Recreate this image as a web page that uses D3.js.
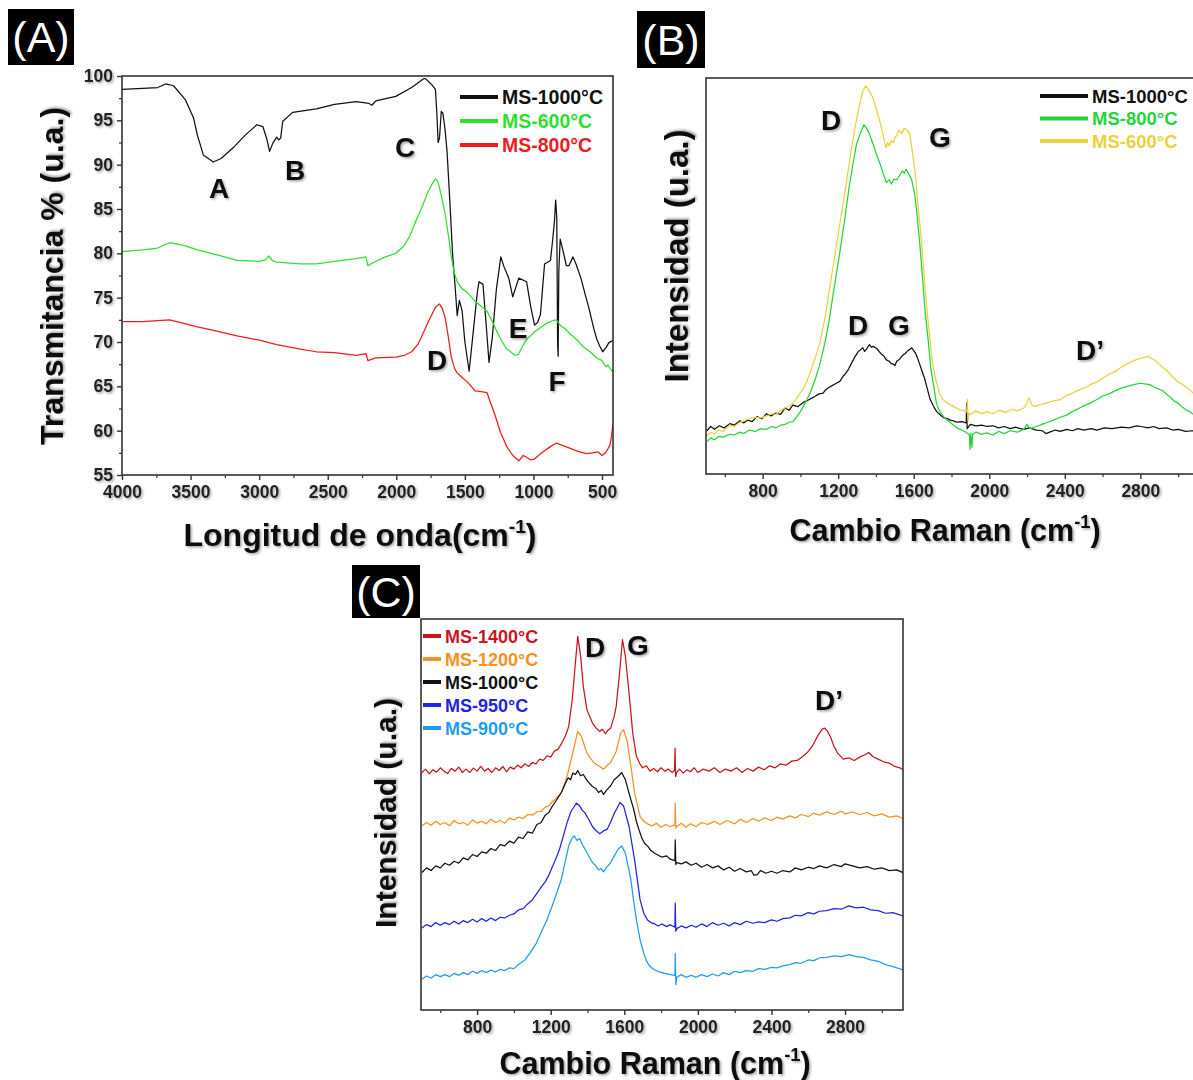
<!DOCTYPE html>
<html><head><meta charset="utf-8">
<script src="https://cdn.jsdelivr.net/npm/d3@7"></script>
<style>
body{margin:0;background:#fff}
text{font-family:"Liberation Sans",Arial,Helvetica,sans-serif}
</style>
</head><body>
<svg id="chart" width="1193" height="1080"></svg>
<script>
// ---------------- DATA ----------------
// Panel A: FTIR (x: cm-1, y: transmittance %)
const ftirXTicks = [4000,3500,3000,2500,2000,1500,1000,500];
const ftirYTicks = [55,60,65,70,75,80,85,90,95,100];
const ftirLegend = ["MS-1000°C","MS-600°C","MS-800°C"];
const ftir1000 = [[4000,98.5],[3850,98.6],[3740,98.7],[3682,99.1],[3624,98.9],[3537,97.3],[3479,95.3],[3450,93.3],[3407,91.1],[3335,90.3],[3277,90.7],[3190,91.9],[3103,93.3],[3017,94.5],[2973,94.3],[2944,92.9],[2924,91.5],[2901,92.4],[2872,93.1],[2857,92.8],[2843,93.0],[2828,94.9],[2756,95.9],[2583,96.3],[2450,96.8],[2293,97.1],[2200,96.9],[2178,96.7],[2149,97.2],[2004,97.7],[1888,98.7],[1801,99.7],[1787,99.7],[1760,99.3],[1740,99.0],[1715,98.5],[1705,96.0],[1695,92.5],[1685,93.0],[1672,96.0],[1660,95.8],[1645,94.0],[1630,91.5],[1610,86.0],[1590,80.0],[1570,76.0],[1556,73.0],[1540,74.7],[1520,73.5],[1500,70.0],[1469,66.7],[1440,71.0],[1410,75.5],[1397,76.8],[1368,76.5],[1345,72.0],[1324,67.7],[1300,70.5],[1270,76.0],[1238,79.6],[1215,78.5],[1180,77.2],[1151,75.1],[1107,77.2],[1050,76.8],[1020,74.0],[992,71.9],[970,72.2],[949,73.1],[919,78.8],[876,79.2],[860,81.5],[847,83.6],[838,86.0],[830,84.0],[824,70.0],[820,68.4],[815,78.0],[805,81.6],[786,80.4],[760,78.6],[741,78.6],[712,79.6],[690,78.8],[654,77.2],[620,75.2],[597,73.9],[560,71.5],[538,70.3],[515,69.5],[495,68.9],[470,69.4],[451,69.9],[420,70.2]];
const ftir600 = [[4000,80.2],[3850,80.4],[3740,80.6],[3653,81.2],[3550,80.9],[3450,80.4],[3300,79.8],[3161,79.2],[3000,79.1],[2950,79.3],[2930,79.7],[2905,79.2],[2872,79.0],[2700,78.8],[2583,78.8],[2450,79.1],[2293,79.4],[2221,79.6],[2207,78.6],[2163,79.0],[2080,79.6],[2004,80.0],[1946,80.8],[1900,82.0],[1859,83.6],[1810,85.3],[1773,86.8],[1740,87.8],[1715,88.4],[1700,88.2],[1686,87.5],[1665,86.0],[1643,84.4],[1620,82.0],[1599,79.6],[1580,78.0],[1556,76.8],[1520,76.0],[1483,75.6],[1420,74.5],[1339,73.5],[1300,72.3],[1252,70.7],[1200,69.3],[1136,68.5],[1110,68.6],[1080,69.5],[1050,70.3],[980,71.3],[905,72.1],[860,72.4],[832,72.5],[800,71.8],[770,71.5],[731,70.9],[680,70.2],[640,69.5],[587,68.9],[540,68.2],[500,67.9],[470,67.2],[457,67.4],[440,67.0],[420,66.6]];
const ftir800 = [[4000,72.3],[3850,72.3],[3740,72.4],[3653,72.5],[3550,72.1],[3450,71.7],[3300,71.2],[3161,70.7],[3000,70.2],[2872,69.7],[2700,69.2],[2583,68.9],[2450,68.8],[2293,68.5],[2221,68.7],[2207,67.9],[2150,68.2],[2004,68.3],[1940,68.5],[1888,68.9],[1840,69.8],[1801,71.1],[1760,72.5],[1715,73.9],[1686,74.3],[1665,73.8],[1643,72.7],[1620,70.5],[1599,68.3],[1575,67.0],[1556,66.5],[1520,66.0],[1483,65.5],[1425,64.5],[1380,64.4],[1339,64.3],[1310,63.0],[1281,61.8],[1240,59.8],[1194,58.2],[1150,57.2],[1107,56.6],[1075,57.2],[1050,57.0],[1020,56.7],[992,56.8],[940,57.5],[876,58.2],[832,58.6],[800,58.4],[731,58.0],[680,57.7],[616,57.4],[570,57.5],[529,57.6],[500,57.2],[470,57.6],[442,58.4],[430,59.5],[420,60.8]];

// Panel B: Raman (x: cm-1, y: intensity a.u.)
const ramanXTicks = [800,1200,1600,2000,2400,2800];
const ramanBLegend = ["MS-1000°C","MS-800°C","MS-600°C"];
const ramanB1000 = [[505,122],[525,134],[545,126],[570,136],[595,130],[626,142],[650,138],[680,150],[700,144],[720,152],[745,148],[770,162],[795,156],[821,170],[845,164],[870,172],[895,168],[918,186],[940,180],[960,194],[985,190],[1015,202],[1040,208],[1060,214],[1080,220],[1100,226],[1120,228],[1131,236],[1150,244],[1170,250],[1190,256],[1210,262],[1225,275],[1240,284],[1255,296],[1268,310],[1280,322],[1290,332],[1307,346],[1318,350],[1330,356],[1340,346],[1350,352],[1365,365],[1375,358],[1385,360],[1404,354],[1425,340],[1443,332],[1455,322],[1470,318],[1480,312],[1491,310],[1500,306],[1510,318],[1525,324],[1540,334],[1555,340],[1565,346],[1580,352],[1589,356],[1600,348],[1610,340],[1618,330],[1630,312],[1640,296],[1657,270],[1672,240],[1686,212],[1700,196],[1710,186],[1722,176],[1734,170],[1750,162],[1760,158],[1780,156],[1793,152],[1810,150],[1830,146],[1855,148],[1878,144],[1880,200],[1883,128],[1900,140],[1930,136],[1960,138],[1987,134],[2020,136],[2050,130],[2080,134],[2110,128],[2140,132],[2182,126],[2210,130],[2250,124],[2280,122],[2300,114],[2320,118],[2350,124],[2376,120],[2410,126],[2440,122],[2470,128],[2500,124],[2540,128],[2570,124],[2610,130],[2650,128],[2700,132],[2740,130],[2780,136],[2804,134],[2840,130],[2870,134],[2900,128],[2940,130],[2970,124],[3000,126],[3040,120],[3076,122],[3100,118]];
const ramanB800 = [[505,92],[525,102],[545,96],[565,106],[590,104],[626,112],[650,110],[680,118],[700,114],[730,124],[760,120],[790,128],[821,126],[850,134],[870,130],[895,138],[918,140],[940,146],[960,148],[976,158],[995,172],[1015,190],[1035,210],[1054,232],[1080,270],[1103,310],[1130,370],[1151,430],[1180,530],[1210,630],[1235,720],[1258,810],[1280,880],[1297,930],[1310,950],[1320,965],[1336,985],[1350,975],[1365,960],[1385,930],[1404,900],[1425,870],[1443,840],[1455,822],[1470,830],[1482,818],[1495,832],[1511,830],[1525,842],[1540,855],[1550,848],[1559,860],[1575,845],[1589,830],[1605,790],[1618,730],[1632,650],[1647,550],[1660,460],[1676,380],[1690,300],[1705,250],[1720,200],[1734,180],[1760,160],[1793,145],[1830,130],[1871,120],[1895,110],[1898,70],[1902,115],[1908,75],[1912,112],[1930,118],[1960,112],[1987,116],[2020,110],[2050,120],[2080,114],[2110,122],[2150,118],[2182,126],[2200,140],[2215,128],[2250,134],[2279,140],[2310,146],[2340,152],[2376,160],[2410,166],[2440,176],[2470,184],[2500,192],[2535,200],[2570,210],[2600,220],[2635,226],[2670,236],[2700,242],[2735,248],[2765,252],[2800,256],[2823,254],[2850,252],[2870,246],[2895,240],[2920,234],[2945,222],[2960,216],[2980,206],[2998,200],[3020,190],[3040,182],[3060,176],[3076,170],[3100,164]];
const ramanB600 = [[505,108],[525,118],[545,112],[565,124],[590,120],[626,138],[650,134],[680,146],[700,150],[730,156],[760,160],[790,158],[821,164],[850,170],[870,168],[895,178],[918,186],[940,192],[960,200],[976,210],[995,226],[1015,240],[1035,262],[1054,290],[1080,330],[1103,370],[1130,440],[1151,510],[1180,610],[1210,710],[1240,810],[1268,910],[1290,980],[1316,1050],[1330,1080],[1346,1095],[1365,1080],[1385,1060],[1404,1025],[1423,990],[1440,950],[1453,920],[1462,935],[1470,925],[1480,940],[1491,935],[1500,948],[1510,955],[1521,970],[1535,960],[1550,975],[1565,970],[1579,960],[1595,900],[1608,850],[1622,760],[1637,680],[1655,560],[1676,430],[1695,330],[1715,270],[1735,230],[1754,210],[1780,200],[1812,190],[1850,180],[1880,175],[1884,210],[1888,150],[1892,172],[1900,168],[1930,178],[1960,170],[1987,176],[2020,170],[2050,180],[2084,174],[2120,182],[2150,178],[2182,186],[2200,200],[2211,215],[2225,195],[2240,190],[2270,196],[2300,200],[2340,206],[2376,210],[2410,222],[2440,228],[2470,236],[2500,242],[2535,252],[2570,260],[2600,270],[2635,282],[2670,290],[2700,302],[2735,312],[2765,320],[2800,326],[2843,332],[2860,326],[2880,320],[2900,310],[2920,300],[2940,292],[2960,280],[2980,270],[2998,260],[3020,254],[3040,246],[3060,238],[3076,230],[3100,220]];

// Panel C: Raman (x: cm-1, y: intensity a.u., stacked)
const ramanCLegend = ["MS-1400°C","MS-1200°C","MS-1000°C","MS-950°C","MS-900°C"];
const ramanC1400 = [[500,712],[520,722],[540,708],[560,720],[580,713],[600,726],[620,716],[640,709],[660,724],[680,716],[700,728],[720,712],[740,722],[760,712],[780,725],[800,716],[820,730],[840,716],[860,724],[880,712],[900,726],[920,718],[940,730],[960,714],[980,728],[1000,722],[1020,734],[1040,726],[1060,738],[1080,730],[1100,742],[1120,738],[1140,752],[1160,748],[1180,762],[1200,758],[1220,776],[1240,782],[1260,800],[1280,822],[1298,850],[1317,930],[1331,1020],[1347,1120],[1363,1060],[1377,970],[1397,900],[1427,860],[1447,845],[1467,835],[1480,842],[1497,828],[1510,838],[1526,845],[1545,880],[1556,910],[1576,1020],[1590,1110],[1606,1060],[1626,950],[1646,830],[1666,760],[1685,738],[1700,726],[1720,732],[1740,716],[1760,724],[1780,714],[1800,726],[1820,716],[1840,722],[1860,712],[1873,718],[1876,785],[1879,700],[1885,712],[1900,722],[1920,710],[1940,720],[1960,714],[1980,726],[2000,712],[2030,722],[2060,716],[2090,726],[2120,712],[2150,722],[2180,716],[2210,726],[2240,712],[2270,724],[2300,716],[2330,728],[2360,720],[2390,732],[2420,726],[2450,738],[2480,734],[2510,746],[2540,748],[2570,760],[2600,775],[2621,790],[2645,815],[2661,830],[2675,842],[2690,845],[2705,835],[2720,820],[2740,790],[2760,770],[2790,752],[2820,756],[2850,748],[2880,758],[2910,766],[2929,772],[2950,760],[2979,752],[3010,744],[3040,740],[3070,730],[3098,726],[3115,720]];
const ramanC1200 = [[500,552],[525,562],[550,554],[575,566],[600,556],[625,562],[650,552],[675,568],[700,558],[725,562],[750,554],[775,570],[800,560],[825,566],[850,558],[875,572],[900,562],[925,568],[950,560],[975,575],[1000,570],[1025,578],[1050,574],[1075,586],[1100,584],[1125,594],[1148,595],[1170,608],[1190,612],[1208,624],[1230,634],[1258,652],[1280,685],[1298,720],[1315,760],[1328,790],[1347,835],[1367,820],[1397,770],[1420,752],[1437,740],[1460,732],[1487,722],[1505,732],[1526,742],[1556,775],[1580,830],[1596,840],[1616,805],[1636,730],[1656,650],[1686,580],[1705,566],[1726,558],[1750,552],[1775,560],[1800,548],[1825,556],[1850,550],[1875,555],[1877,620],[1880,545],[1885,550],[1910,560],[1935,548],[1960,558],[1990,550],[2020,562],[2054,556],[2090,566],[2120,556],[2160,568],[2200,558],[2230,572],[2263,562],[2300,574],[2330,566],[2362,576],[2400,568],[2430,578],[2462,572],[2500,582],[2530,576],[2561,586],[2600,580],[2630,590],[2661,584],[2700,594],[2740,586],[2780,596],[2800,588],[2840,594],[2880,586],[2920,592],[2959,582],[3000,588],[3040,578],[3080,582],[3115,574]];
const ramanC1000 = [[500,412],[525,426],[550,418],[575,432],[600,426],[625,440],[650,434],[675,446],[700,440],[725,456],[750,450],[775,466],[800,460],[825,474],[850,470],[875,484],[900,478],[925,496],[950,492],[975,506],[1000,500],[1025,518],[1050,514],[1075,534],[1100,530],[1125,556],[1148,562],[1170,584],[1190,592],[1208,610],[1230,628],[1258,652],[1280,680],[1295,696],[1308,690],[1320,710],[1335,706],[1347,718],[1362,702],[1377,706],[1400,686],[1427,670],[1445,664],[1460,652],[1475,658],[1487,646],[1505,660],[1526,672],[1545,690],[1566,700],[1586,712],[1606,690],[1636,630],[1650,604],[1666,565],[1680,540],[1696,515],[1710,500],[1726,492],[1745,478],[1765,470],[1785,464],[1805,458],[1830,462],[1850,452],[1875,448],[1877,510],[1880,436],[1885,442],[1910,438],[1935,444],[1964,434],[1990,440],[2020,428],[2050,436],[2080,426],[2110,432],[2140,420],[2170,428],[2200,416],[2230,424],[2263,414],[2290,418],[2305,404],[2323,406],[2340,418],[2370,410],[2400,416],[2430,410],[2462,418],[2500,414],[2530,426],[2561,420],[2600,428],[2630,424],[2661,432],[2700,426],[2740,436],[2780,430],[2800,438],[2840,432],[2880,426],[2920,430],[2959,422],[3000,426],[3040,418],[3080,420],[3115,412]];
const ramanC950 = [[500,246],[525,256],[550,250],[575,262],[600,254],[625,262],[650,256],[675,266],[700,258],[725,268],[750,262],[775,272],[800,264],[825,274],[850,266],[875,276],[900,268],[925,278],[950,276],[975,284],[1000,288],[1025,300],[1050,304],[1075,318],[1100,330],[1128,352],[1150,370],[1170,384],[1188,402],[1210,430],[1230,456],[1248,482],[1270,524],[1288,560],[1310,595],[1328,610],[1340,620],[1357,612],[1370,600],[1387,590],[1410,568],[1427,550],[1445,538],[1467,528],[1485,536],[1507,542],[1525,562],[1546,590],[1560,604],[1576,622],[1596,612],[1626,550],[1656,450],[1686,330],[1706,290],[1726,270],[1745,262],[1765,258],[1785,252],[1805,258],[1830,250],[1850,255],[1875,248],[1877,320],[1880,236],[1885,244],[1910,252],[1935,246],[1964,254],[1990,248],[2020,258],[2050,250],[2080,262],[2110,254],[2140,260],[2170,252],[2200,262],[2230,256],[2263,266],[2300,260],[2330,264],[2362,262],[2400,270],[2430,266],[2462,274],[2500,276],[2530,284],[2561,282],[2600,292],[2630,288],[2661,296],[2700,298],[2740,304],[2780,302],[2820,312],[2860,306],[2900,308],[2940,300],[2980,298],[3020,290],[3060,292],[3115,282]];
const ramanC900 = [[500,92],[525,102],[550,96],[575,106],[600,100],[625,106],[650,100],[675,110],[700,104],[725,112],[750,106],[775,116],[800,110],[825,118],[850,112],[875,120],[900,114],[925,122],[950,118],[975,126],[1000,124],[1029,138],[1060,150],[1089,172],[1120,198],[1148,232],[1178,268],[1208,312],[1230,346],[1258,392],[1280,448],[1298,492],[1313,512],[1328,522],[1343,508],[1357,514],[1372,496],[1387,482],[1410,458],[1427,442],[1445,432],[1460,420],[1475,424],[1487,414],[1505,428],[1526,442],[1546,462],[1566,482],[1586,492],[1606,470],[1636,390],[1650,330],[1666,270],[1686,210],[1706,170],[1720,148],[1735,134],[1750,126],[1765,120],[1790,114],[1820,110],[1850,106],[1875,104],[1877,170],[1880,76],[1885,98],[1910,106],[1935,98],[1964,104],[1990,98],[2020,106],[2050,100],[2080,108],[2110,102],[2140,112],[2170,106],[2200,116],[2230,112],[2263,118],[2300,116],[2330,124],[2362,122],[2400,128],[2430,126],[2462,132],[2500,136],[2530,142],[2561,140],[2600,150],[2630,148],[2661,156],[2700,158],[2740,162],[2780,160],[2820,166],[2860,160],[2900,158],[2940,150],[2980,146],[3020,136],[3060,130],[3115,120]];

// ---------------- DRAW ----------------
const svg = d3.select("#chart");
const defs = svg.append("defs");
const f = defs.append("filter").attr("id","sh").attr("x","-20%").attr("y","-20%").attr("width","150%").attr("height","150%");
f.append("feDropShadow").attr("dx",1.5).attr("dy",1.5).attr("stdDeviation",1.2).attr("flood-color","#000").attr("flood-opacity",0.35);

const FONT = '"Liberation Sans",Arial,sans-serif';

function panelLabel(txt, x, y, w, h) {
  svg.append("rect").attr("x",x).attr("y",y).attr("width",w).attr("height",h).attr("fill","#000");
  svg.append("text").attr("x",x+w/2).attr("y",y+h/2+15).attr("text-anchor","middle")
    .attr("fill","#fff").attr("font-size",43).attr("font-weight","normal").text(txt);
}

function drawPanel(o) {
  const x = d3.scaleLinear().domain(o.xDomain).range([o.left,o.right]);
  const y = d3.scaleLinear().domain(o.yDomain).range([o.bottom,o.top]);
  const g = svg.append("g");
  const clipId = "clip"+o.id;
  defs.append("clipPath").attr("id",clipId).append("rect")
    .attr("x",o.left).attr("y",o.top).attr("width",o.right-o.left).attr("height",o.bottom-o.top);
  const line = d3.line().x(d=>x(d[0])).y(d=>y(d[1]));
  o.series.forEach(s=>{
    g.append("path").datum(s.data).attr("d",line).attr("fill","none")
      .attr("stroke",s.color).attr("stroke-width",1.25).attr("stroke-linejoin","round")
      .attr("clip-path",`url(#${clipId})`);
  });
  g.append("rect").attr("x",o.left).attr("y",o.top).attr("width",o.right-o.left).attr("height",o.bottom-o.top)
    .attr("fill","none").attr("stroke","#333").attr("stroke-width",1.6);
  const xMinor = d3.range(o.minorStart, o.minorEnd, o.minorStep);
  const axM = d3.axisBottom(x).tickValues(xMinor).tickSize(3).tickFormat("");
  g.append("g").attr("transform",`translate(0,${o.bottom})`).call(axM).call(a=>a.select(".domain").remove())
    .selectAll("line").attr("stroke","#333").attr("stroke-width",1.2);
  const ax = d3.axisBottom(x).tickValues(o.xTicks).tickSize(5).tickPadding(6).tickFormat(d3.format("d"));
  const gx = g.append("g").attr("transform",`translate(0,${o.bottom})`).call(ax);
  gx.select(".domain").remove();
  gx.selectAll("line").attr("stroke","#333").attr("stroke-width",1.4);
  gx.selectAll("text").attr("font-family",FONT).attr("font-size",17.5).attr("font-weight","bold").attr("fill","#222")
    .attr("filter","url(#sh)");
  if (o.yTicks) {
    const yMinor = d3.range(o.yDomain[0]+2.5, o.yDomain[1], 5);
    const ayM = d3.axisLeft(y).tickValues(yMinor).tickSize(3).tickFormat("");
    g.append("g").attr("transform",`translate(${o.left},0)`).call(ayM).call(a=>a.select(".domain").remove())
      .selectAll("line").attr("stroke","#333").attr("stroke-width",1.2);
    const ay = d3.axisLeft(y).tickValues(o.yTicks).tickSize(5).tickPadding(4);
    const gy = g.append("g").attr("transform",`translate(${o.left},0)`).call(ay);
    gy.select(".domain").remove();
    gy.selectAll("line").attr("stroke","#333").attr("stroke-width",1.4);
    gy.selectAll("text").attr("font-family",FONT).attr("font-size",17.5).attr("font-weight","bold").attr("fill","#222")
      .attr("filter","url(#sh)");
  }
  const xt = svg.append("text").attr("x",o.xTitle.x).attr("y",o.xTitle.y).attr("text-anchor","middle")
    .attr("font-size",o.xTitle.size).attr("font-weight","bold").attr("fill","#111").attr("filter","url(#sh)");
  xt.append("tspan").text(o.xTitle.text);
  xt.append("tspan").attr("font-size",o.xTitle.size*0.6).attr("dy",-o.xTitle.size*0.42).text(o.xTitle.sup);
  xt.append("tspan").attr("dy",o.xTitle.size*0.42).text(o.xTitle.after);
  svg.append("text").attr("transform",`translate(${o.yTitle.x},${o.yTitle.y}) rotate(-90)`)
    .attr("text-anchor","middle").attr("font-size",o.yTitle.size).attr("font-weight","bold").attr("fill","#111")
    .attr("filter","url(#sh)").text(o.yTitle.text);
  o.legend.items.forEach((it,i)=>{
    const ly = o.legend.y + i*o.legend.dy;
    svg.append("line").attr("x1",o.legend.x1).attr("x2",o.legend.x2).attr("y1",ly).attr("y2",ly)
      .attr("stroke",it.color).attr("stroke-width",o.legend.lw);
    svg.append("text").attr("x",o.legend.x2+4).attr("y",ly+6.5).attr("font-size",o.legend.size).attr("font-weight","bold")
      .attr("fill",it.color).text(it.label);
  });
  o.notes.forEach(n=>{
    svg.append("text").attr("x",n[1]).attr("y",n[2]).attr("text-anchor","middle").attr("font-size",28)
      .attr("font-weight","bold").attr("fill","#111").attr("filter","url(#sh)").text(n[0]);
  });
}

// Panel A
const colA = ["#111111","#2ee02e","#ee1c1c"];
drawPanel({
  id:"A", left:122, right:613, top:76, bottom:475,
  xDomain:[4000,420], yDomain:[55,100],
  xTicks:ftirXTicks, yTicks:ftirYTicks,
  minorStart:3750, minorEnd:400, minorStep:-500,
  series:[{data:ftir1000,color:colA[0]},{data:ftir600,color:colA[1]},{data:ftir800,color:colA[2]}],
  xTitle:{text:"Longitud de onda(cm",sup:"-1",after:")",x:360,y:546,size:32},
  yTitle:{text:"Transmitancia % (u.a.)",x:63,y:276,size:32},
  legend:{x1:460,x2:498,y:97,dy:24,lw:4,size:19.5,items:ftirLegend.map((l,i)=>({label:l,color:colA[i]}))},
  notes:[["A",219,198],["B",295,180],["C",405,157],["D",437,370],["E",518,338],["F",557,391]]
});

// Panel B
const colB = ["#111111","#22d43a","#e6d43c"];
drawPanel({
  id:"B", left:706, right:1197, top:78, bottom:474,
  xDomain:[500,3100], yDomain:[0,1117],
  xTicks:ramanXTicks,
  minorStart:600, minorEnd:3100, minorStep:400,
  series:[{data:ramanB1000,color:colB[0]},{data:ramanB800,color:colB[1]},{data:ramanB600,color:colB[2]}],
  xTitle:{text:"Cambio Raman (cm",sup:"-1",after:")",x:945,y:541,size:30.5},
  yTitle:{text:"Intensidad (u.a.)",x:688,y:256,size:33},
  legend:{x1:1040,x2:1088,y:96,dy:22.5,lw:4,size:18.5,items:ramanBLegend.map((l,i)=>({label:l,color:colB[i]}))},
  notes:[["D",831,130],["G",940,147],["D",858,335],["G",899,335],["D’",1090,360]]
});

// Panel C
const colC = ["#c8161e","#f7901e","#111111","#2323e0","#1e9cf0"];
drawPanel({
  id:"C", left:421, right:903, top:619, bottom:1010,
  xDomain:[495,3115], yDomain:[0,1172],
  xTicks:ramanXTicks,
  minorStart:600, minorEnd:3115, minorStep:400,
  series:[{data:ramanC1400,color:colC[0]},{data:ramanC1200,color:colC[1]},{data:ramanC1000,color:colC[2]},{data:ramanC950,color:colC[3]},{data:ramanC900,color:colC[4]}],
  xTitle:{text:"Cambio Raman (cm",sup:"-1",after:")",x:655,y:1074,size:30.5},
  yTitle:{text:"Intensidad (u.a.)",x:396,y:813,size:30},
  legend:{x1:423,x2:441,y:636,dy:23,lw:4,size:18,items:ramanCLegend.map((l,i)=>({label:l,color:colC[i]}))},
  notes:[["D",595,657],["G",638,655],["D’",829,710]]
});

panelLabel("(A)",8,9,66,56);
panelLabel("(B)",637,11,68,57);
panelLabel("(C)",352,565,68,53);
</script>
</body></html>
